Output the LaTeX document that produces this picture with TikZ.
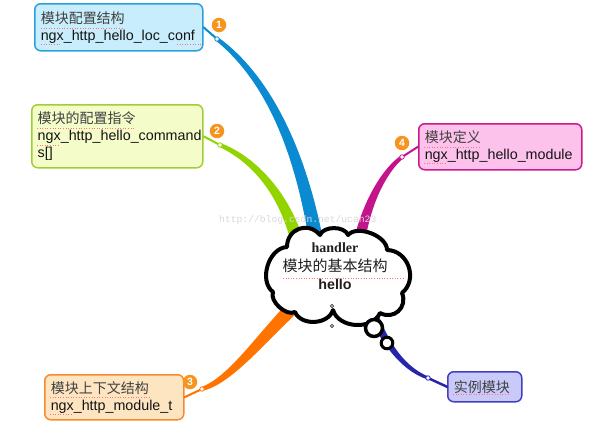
\documentclass[tikz,border=0pt]{standalone}
\usepackage{fontspec}
\setmainfont{Liberation Sans}
\newfontfamily\cn{Noto Sans CJK SC}
\newfontfamily\serifb{Liberation Serif}
\newfontfamily\mono{Liberation Mono}
\usetikzlibrary{calc}
\definecolor{blueB}{HTML}{0A8AD0}
\definecolor{boxAfill}{HTML}{C8EEFD}
\definecolor{boxAline}{HTML}{2C9FDB}
\definecolor{greenB}{HTML}{92D400}
\definecolor{boxBfill}{HTML}{F4FCC9}
\definecolor{boxBline}{HTML}{A0CF35}
\definecolor{magB}{HTML}{C4148C}
\definecolor{boxDfill}{HTML}{FDC2EC}
\definecolor{boxDline}{HTML}{C81C8E}
\definecolor{orangeB}{HTML}{FF7300}
\definecolor{boxCfill}{HTML}{FEE5C2}
\definecolor{boxCline}{HTML}{F78A2E}
\definecolor{navyB}{HTML}{2626A8}
\definecolor{boxEfill}{HTML}{CACAFA}
\definecolor{boxEline}{HTML}{4040C0}
\definecolor{badgeC}{HTML}{F7941E}
\definecolor{cntext}{HTML}{404040}
\definecolor{entext}{HTML}{141414}
\newcommand\taper[9]{%
  \fill[#1] ($(#2)!#6!90:(#3)$) .. controls ($(#3)!#7!-90:(#2)$) and ($(#4)!#8!90:(#5)$) .. ($(#5)!#9!-90:(#4)$)
   -- ($(#5)!#9!90:(#4)$) .. controls ($(#4)!#8!-90:(#5)$) and ($(#3)!#7!90:(#2)$) .. ($(#2)!#6!-90:(#3)$) -- cycle;}
\tikzset{
  box/.style={rounded corners=6pt, line width=1.5pt, inner xsep=6pt, inner ysep=0pt,
    align=left, anchor=north west, font=\fontsize{14.3}{17}\selectfont},
  badge/.style={circle, fill=badgeC, minimum size=14.5pt, inner sep=0pt, text=white,
    font=\bfseries\fontsize{10.5}{10.5}\selectfont},
  knot/.style={circle, fill=white, draw=#1, line width=0.8pt, minimum size=4.5pt, inner sep=0pt},
  thin/.style={line width=2pt, draw=#1, line cap=round},
  spell/.style={draw=red!55!white, dotted, line width=0.6pt},
  cloudline/.style={line width=4pt, draw=black, fill=white, line join=round},
}
\newcommand\cnt[1]{{\cn\fontsize{14}{17}\selectfont\color{cntext}#1}}
\newcommand\ent[1]{{\color{entext}#1}}
\begin{document}
\begin{tikzpicture}[x=1pt,y=-1pt]
\useasboundingbox (0,0) rectangle (600,429);
% anchor coordinates of the branches
\coordinate (k1) at (217,39);
\coordinate (k2) at (220,145);
\coordinate (k4) at (402,157);
\coordinate (k3) at (202,389);
\coordinate (k5) at (428,378);
\coordinate (h1) at (316,240);
\coordinate (h2) at (298,244);
\coordinate (h4) at (360,238);
\coordinate (h3) at (295,305);
\coordinate (h5) at (370,305);
% tapered branches
\taper{blueB}{k1}{268,78}{300,150}{h1}{2pt}{3.8pt}{5.5pt}{7pt}
\taper{greenB}{k2}{255,160}{285,195}{h2}{2pt}{3.5pt}{5pt}{6.5pt}
\taper{magB}{k4}{385,170}{368,200}{h4}{1.8pt}{3pt}{4.2pt}{5.5pt}
\taper{orangeB}{k3}{230,380}{257,343}{h3}{2pt}{3.8pt}{5.5pt}{7pt}
\taper{navyB}{k5}{400,368}{380,335}{h5}{1.5pt}{2.6pt}{3.8pt}{5pt}
% watermark
\node[anchor=west, inner sep=0pt, text=gray!30, font=\mono\fontsize{9.7}{10}\selectfont] (wm) at (219,220) {http://blog.csdn.net/ucan23};
% boxes
\node[box, fill=boxAfill, draw=boxAline, minimum width=168pt, minimum height=47pt, text width=156pt] (b1) at (34,3)
  {\cnt{模块配置结构}\\\ent{ngx\_http\_hello\_loc\_conf}};
\node[box, fill=boxBfill, draw=boxBline, minimum width=171pt, minimum height=63pt, text width=159pt] (b2) at (31,104)
  {\cnt{模块的配置指令}\\\ent{ngx\_http\_hello\_command}\\\ent{s[]}};
\node[box, fill=boxDfill, draw=boxDline, minimum width=163pt, minimum height=46pt, text width=151pt] (b4) at (418,123)
  {\cnt{模块定义}\\\ent{ngx\_http\_hello\_module}};
\node[box, fill=boxCfill, draw=boxCline, minimum width=139pt, minimum height=45pt, text width=127pt] (b3) at (44,374)
  {\cnt{模块上下文结构}\\\ent{ngx\_http\_module\_t}};
\node[box, fill=boxEfill, draw=boxEline, minimum width=74pt, minimum height=30pt, text width=62pt] (b5) at (447,371)
  {\cnt{实例模块}};
% thin links from boxes to knots
\draw[thin=blueB] (b1.east) -- (k1);
\draw[thin=greenB] (b2.east) -- (k2);
\draw[thin=magB] (b4.west) -- (k4);
\draw[thin=orangeB] (b3.east) -- (k3);
\draw[thin=navyB, line width=2.5pt] (b5.west) -- (k5);
\node[knot=blueB] (n1) at (k1) {};
\node[knot=greenB] (n2) at (k2) {};
\node[knot=magB] (n4) at (k4) {};
\node[knot=orangeB] (n3) at (k3) {};
\node[knot=navyB] (n5) at (k5) {};
% spell-check underlines
\draw[spell] (41,28) -- (124,28);
\draw[spell] (41,44) -- (61,44);
\draw[spell] (177,44) -- (205,44);
\draw[spell] (37,128) -- (134,128);
\draw[spell] (37,145) -- (58,145);
\draw[spell] (424,147) -- (480,147);
\draw[spell] (424,163) -- (446,163);
\draw[spell] (50,397) -- (150,397);
\draw[spell] (50,414) -- (73,414);
\draw[spell] (453,394) -- (510,394);
% badges
\node[badge] (g1) at (219,25) {1};
\node[badge] (g2) at (217,131) {2};
\node[badge] (g3) at (190,382) {3};
\node[badge] (g4) at (402,143) {4};
% cloud
\coordinate (d1) at (287,247);
\coordinate (d2) at (320,235);
\coordinate (d3) at (348,235);
\coordinate (d4) at (387,250);
\coordinate (d5) at (402,293);
\coordinate (d6) at (380,313);
\coordinate (d7) at (333,310);
\coordinate (d8) at (295,312);
\coordinate (d9) at (273,292);
\path[cloudline] (d1) to[bend left=70, looseness=1.34] (d2)
  to[bend left=70, looseness=0.9] (d3)
  to[bend left=70, looseness=0.86] (d4)
  to[bend left=70, looseness=1.19] (d5)
  to[bend left=70, looseness=1.34] (d6)
  to[bend left=70, looseness=1.04] (d7)
  to[bend left=70, looseness=1.04] (d8)
  to[bend left=70, looseness=0.85] (d9)
  to[bend left=70, looseness=1.0] (d1) -- cycle;
\draw[line width=3.5pt, fill=white] (374,328) circle[radius=8.5pt];
\draw[line width=3pt, fill=white] (387,343) circle[radius=5.8pt];
\draw[line width=0.8pt, fill=white, draw=black!80] (332,306) circle[radius=1.6pt];
\draw[line width=0.8pt, fill=white, draw=black!80] (332,326) circle[radius=1.6pt];
\node[align=center, inner sep=0pt, text=black!88, font=\fontsize{15}{18.5}\selectfont] (hub) at (335,266.5)
  {{\serifb\bfseries\fontsize{14}{18.5}\selectfont handler}\\{\cn 模块的基本结构}\\{\bfseries\fontsize{14.3}{18.5}\selectfont hello}};
\draw[spell] (283,278) -- (405,278);
\end{tikzpicture}
\end{document}
